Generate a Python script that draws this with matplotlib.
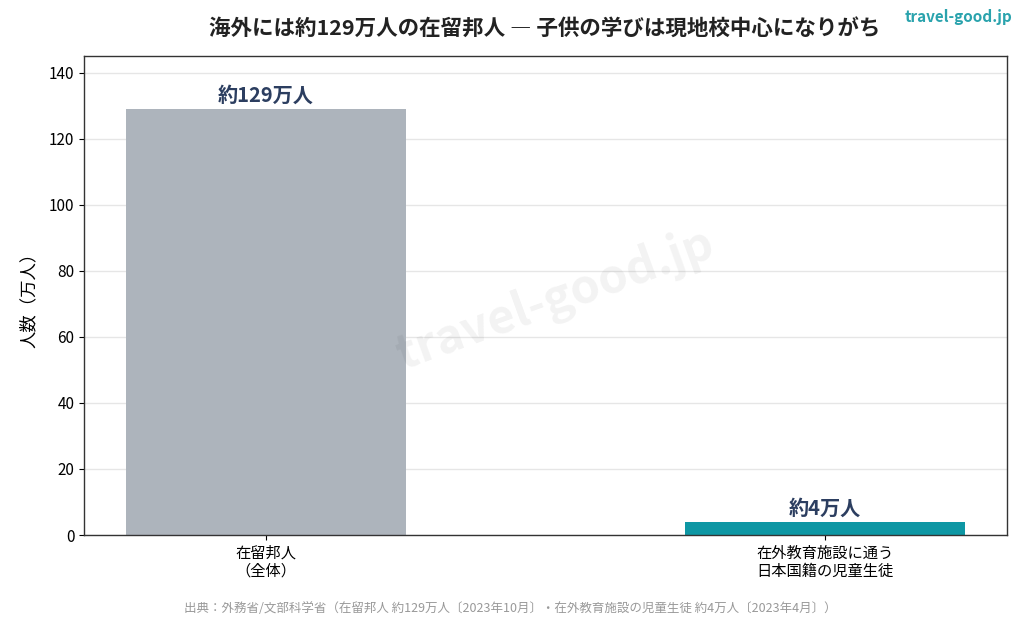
import matplotlib
matplotlib.use("Agg")
import matplotlib.pyplot as plt

plt.rcParams['font.family'] = ['Noto Sans CJK JP', 'DejaVu Sans']

categories = ["在留邦人\n（全体）", "在外教育施設に通う\n日本国籍の児童生徒"]
values = [129, 4]
bar_labels = ["約129万人", "約4万人"]
colors = ["#adb4bc", "#0e97a4"]
yticks = [0, 20, 40, 60, 80, 100, 120, 140]

fig = plt.figure(figsize=(10.24, 6.19), dpi=100)
ax = fig.add_axes([84/1024, 1-535/619, (1007-84)/1024, (535-56)/619])

x = list(range(len(categories)))
bars = ax.bar(x, values, width=0.5, color=colors, zorder=2)
for xi, v, lab in zip(x, values, bar_labels):
    ax.text(xi, v + 1.0, lab, ha='center', va='bottom', fontsize=14.5,
            fontweight='bold', color='#2c3e60', zorder=3)

ax.set_xlim(-0.325, 1.325)
ax.set_ylim(0, 145)
ax.set_yticks(yticks)
ax.set_xticks(x)
ax.set_xticklabels(categories, fontsize=11, linespacing=1.1)
ax.tick_params(axis='y', labelsize=11)
ax.set_ylabel("人数（万人）", fontsize=12.5, labelpad=8)
ax.yaxis.grid(True, color='#e6e6e6', linewidth=1, zorder=0)
ax.set_axisbelow(True)
for s in ax.spines.values():
    s.set_color('#333333')
    s.set_linewidth(1.0)

fig.text(545/1024, 1-28/619, "海外には約129万人の在留邦人 ― 子供の学びは現地校中心になりがち",
         ha='center', va='center', fontsize=15.5, fontweight='bold', color='#222222')
fig.text(1012/1024, 1-17/619, "travel-good.jp", ha='right', va='center',
         fontsize=11, fontweight='bold', color='#2aa3ad')
fig.text(510/1024, 1-609/619,
         "出典：外務省/文部科学省（在留邦人 約129万人〔2023年10月〕・在外教育施設の児童生徒 約4万人〔2023年4月〕）",
         ha='center', va='center', fontsize=9, color='#999999')
fig.text(555/1024, 1-300/619, "travel-good.jp", ha='center', va='center',
         fontsize=34, fontweight='bold', color='#000000', alpha=0.05, rotation=20)

fig.savefig("out.png", dpi=100)
